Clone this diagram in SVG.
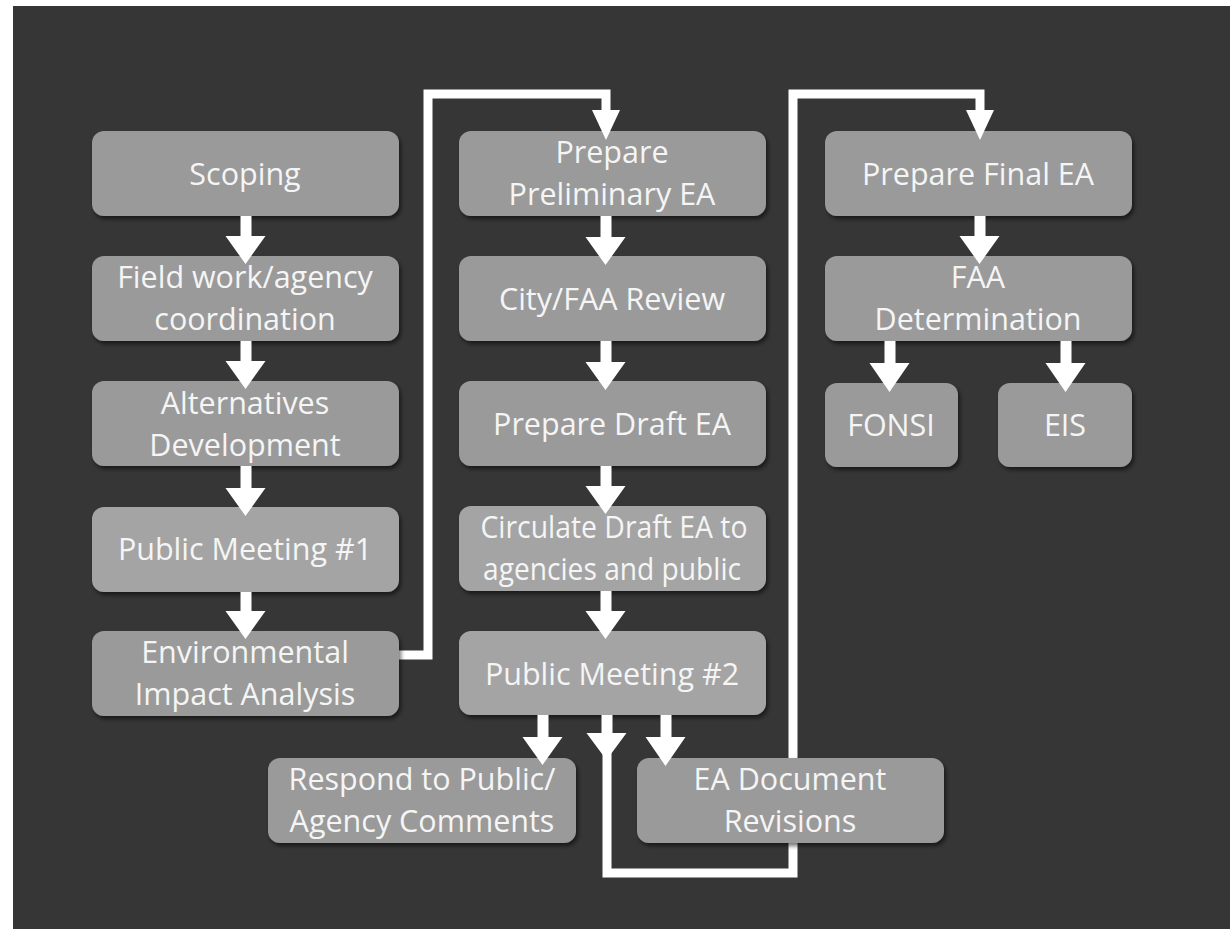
<svg xmlns="http://www.w3.org/2000/svg" width="1230" height="929" viewBox="0 0 1230 929">
<style>
.box{fill:#9a9a9a;filter:url(#sh)}
.lt{fill:#a4a4a4}
.t{font-family:"Open Sans","Liberation Sans",sans-serif;font-size:30.5px;fill:#f5f5f5;text-anchor:middle}
.ln{fill:none;stroke:#ffffff;stroke-width:9;stroke-linejoin:miter;stroke-linecap:square}
.ar{fill:#ffffff}
</style>
<defs>
<filter id="sh" x="-10%" y="-10%" width="125%" height="135%">
<feDropShadow dx="2" dy="3" stdDeviation="2" flood-color="#000" flood-opacity="0.55"/>
</filter>
</defs>
<rect x="0" y="0" width="1230" height="929" fill="#ffffff"/>
<rect x="13" y="6" width="1217" height="923" fill="#363636"/>

<g id="connectors-back">
<path class="ln" d="M399,655 H428 V94 H606 V112"/>
<path class="ln" d="M607,755 V873 H793 V843"/>
<path class="ln" d="M793,758 V94 H980 V112"/>
</g>

<g id="n-scoping"><rect class="box" x="92" y="131" width="307" height="85" rx="12"/><text class="t" x="245" y="185">Scoping</text></g>
<g id="n-field"><rect class="box" x="92" y="256" width="307" height="85" rx="12"/><text class="t" x="245" y="288">Field work/agency</text><text class="t" x="245" y="330">coordination</text></g>
<g id="n-alt"><rect class="box" x="92" y="381" width="307" height="85" rx="12"/><text class="t" x="245" y="414">Alternatives</text><text class="t" x="245" y="456">Development</text></g>
<g id="n-pm1"><rect class="box lt" x="92" y="507" width="307" height="85" rx="12"/><text class="t" x="245" y="560">Public Meeting #1</text></g>
<g id="n-env"><rect class="box" x="92" y="631" width="307" height="85" rx="12"/><text class="t" x="245" y="663">Environmental</text><text class="t" x="245" y="705">Impact Analysis</text></g>

<g id="n-prelim"><rect class="box" x="459" y="131" width="307" height="85" rx="12"/><text class="t" x="612" y="163">Prepare</text><text class="t" x="612" y="205">Preliminary EA</text></g>
<g id="n-city"><rect class="box" x="459" y="256" width="307" height="85" rx="12"/><text class="t" x="612" y="310">City/FAA Review</text></g>
<g id="n-draft"><rect class="box" x="459" y="381" width="307" height="85" rx="12"/><text class="t" x="612" y="435">Prepare Draft EA</text></g>
<g id="n-circ"><rect class="box lt" x="459" y="506" width="307" height="85" rx="12"/><text class="t" x="614" y="538" textLength="267" lengthAdjust="spacingAndGlyphs">Circulate Draft EA to</text><text class="t" x="612" y="580" textLength="258" lengthAdjust="spacingAndGlyphs">agencies and public</text></g>
<g id="n-pm2"><rect class="box lt" x="459" y="631" width="307" height="84" rx="12"/><text class="t" x="612" y="685">Public Meeting #2</text></g>

<g id="n-respond"><rect class="box" x="268" y="758" width="308" height="85" rx="12"/><text class="t" x="422" y="790">Respond to Public/</text><text class="t" x="422" y="832">Agency Comments</text></g>
<g id="n-revisions"><rect class="box" x="637" y="758" width="307" height="85" rx="12"/><text class="t" x="790" y="790">EA Document</text><text class="t" x="790" y="832">Revisions</text></g>

<g id="n-final"><rect class="box" x="825" y="131" width="307" height="85" rx="12"/><text class="t" x="978" y="185">Prepare Final EA</text></g>
<g id="n-faa"><rect class="box" x="825" y="256" width="307" height="85" rx="12"/><text class="t" x="978" y="288">FAA</text><text class="t" x="978" y="330">Determination</text></g>
<g id="n-fonsi"><rect class="box" x="825" y="383" width="133" height="84" rx="12"/><text class="t" x="891" y="436">FONSI</text></g>
<g id="n-eis"><rect class="box" x="998" y="383" width="134" height="84" rx="12"/><text class="t" x="1065" y="436">EIS</text></g>

<g id="connectors">
<polygon class="ar" points="592,110 620,110 606,140"/>
<polygon class="ar" points="966,110 994,110 980,140"/>
<path class="ar" d="M240.5,216 h11 v20 h14 l-20,28 l-20,-28 h15 z"/>
<path class="ar" d="M240.5,341 h11 v20 h14 l-20,28 l-20,-28 h15 z"/>
<path class="ar" d="M240.5,466 h11 v22 h14 l-20,28 l-20,-28 h15 z"/>
<path class="ar" d="M240.5,592 h11 v19 h14 l-20,28 l-20,-28 h15 z"/>
<path class="ar" d="M600.5,216 h11 v21 h14 l-20,28 l-20,-28 h15 z"/>
<path class="ar" d="M600.5,341 h11 v21 h14 l-20,28 l-20,-28 h15 z"/>
<path class="ar" d="M600.5,466 h11 v20 h14 l-20,28 l-20,-28 h15 z"/>
<path class="ar" d="M600.5,591 h11 v20 h14 l-20,28 l-20,-28 h15 z"/>
<path class="ar" d="M537.5,715 h11 v22 h14 l-20,28 l-20,-28 h15 z"/>
<path class="ar" d="M601.5,715 h11 v18 h14 l-20,27 l-20,-27 h15 z"/>
<path class="ar" d="M660.5,715 h11 v22 h14 l-20,29 l-20,-29 h15 z"/>
<path class="ar" d="M974.5,216 h11 v20 h14 l-20,28 l-20,-28 h15 z"/>
<path class="ar" d="M884.5,341 h11 v22 h14 l-20,29 l-20,-29 h15 z"/>
<path class="ar" d="M1060.5,341 h11 v22 h14 l-20,29 l-20,-29 h15 z"/>
</g>
</svg>
